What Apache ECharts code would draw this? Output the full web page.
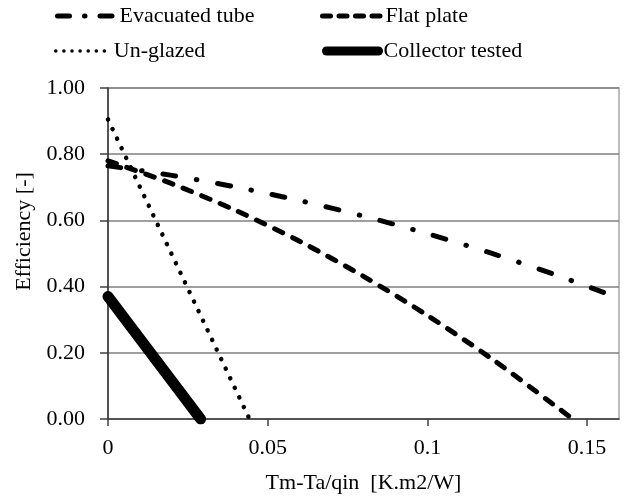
<!DOCTYPE html>
<html>
<head>
<meta charset="utf-8">
<title>Collector efficiency curves</title>
<script src="https://cdn.jsdelivr.net/npm/echarts@6/dist/echarts.min.js"></script>
<style>
  html, body { margin: 0; padding: 0; background: #fff; }
  #chart { width: 626px; height: 501px; }
</style>
</head>
<body>
<div id="chart"></div>
<script>
// Reduced temperature (Tm-Ta)/qin, K.m2/W, and collector efficiency values
const evacuatedX   = [0, 0.02, 0.04, 0.06, 0.08, 0.10, 0.12, 0.14, 0.16];
const evacuatedEff = [0.765, 0.736, 0.701, 0.660, 0.613, 0.560, 0.501, 0.436, 0.365];

const flatX   = [0, 0.02, 0.04, 0.06, 0.08, 0.10, 0.12, 0.14, 0.1455];
const flatEff = [0.78, 0.711, 0.630, 0.537, 0.431, 0.313, 0.183, 0.040, 0];

const unglazedX   = [0, 0.0443];
const unglazedEff = [0.905, 0];

const testedX   = [0, 0.029];
const testedEff = [0.37, 0];

const xTicks = [0, 0.05, 0.1, 0.15];

const seriesNames = ['Evacuated tube', 'Flat plate', 'Un-glazed', 'Collector tested'];

const FONT = '"Liberation Serif", "Times New Roman", serif';

function pairs(xs, ys) {
  return xs.map((x, i) => [x, ys[i]]);
}

const styles = [
  { width: 5, type: [13, 21, 0.5, 21], cap: 'round' },
  { width: 5, type: [9, 11], cap: 'round' },
  { width: 4.5, type: [0.1, 10.5], cap: 'round' },
  { width: 11, type: 'solid', cap: 'round' }
];

const dataSets = [
  pairs(evacuatedX, evacuatedEff),
  pairs(flatX, flatEff),
  pairs(unglazedX, unglazedEff),
  pairs(testedX, testedEff)
];

const series = seriesNames.map((name, i) => ({
  name: name,
  type: 'line',
  data: dataSets[i],
  symbol: 'none',
  showSymbol: false,
  smooth: i < 2 ? 0.3 : false,
  lineStyle: {
    color: '#000',
    width: styles[i].width,
    type: styles[i].type,
    cap: styles[i].cap,
    join: 'round'
  },
  itemStyle: { color: '#000' },
  z: 3 + i
}));

// one legend block per entry, laid out as a 2 x 2 table
const legendPos = [
  { left: 55, top: 5, width: 57 },
  { left: 320, top: 5, width: 58 },
  { left: 54, top: 40, width: 53 },
  { left: 322, top: 40, width: 52 }
];
const legendLine = [
  { width: 5, type: [12, 15, 0.5, 15], cap: 'round' },
  { width: 5, type: [8, 8.5], cap: 'round' },
  { width: 3.5, type: [0.1, 8], cap: 'round' },
  { width: 9, type: 'solid', cap: 'round' }
];
const legends = seriesNames.map((name, i) => ({
  data: [name],
  left: legendPos[i].left,
  top: legendPos[i].top,
  orient: 'horizontal',
  itemWidth: legendPos[i].width,
  itemHeight: 20,
  padding: 0,
  selectedMode: false,
  textStyle: { fontFamily: FONT, fontSize: 22, color: '#000' },
  lineStyle: {
    color: '#000',
    width: legendLine[i].width,
    type: legendLine[i].type,
    cap: legendLine[i].cap
  },
  itemStyle: { color: '#000', borderWidth: 0, opacity: 0 }
}));

const chart = echarts.init(document.getElementById('chart'), null, { renderer: 'canvas' });

chart.setOption({
  backgroundColor: '#fff',
  animation: false,
  legend: legends,
  grid: {
    left: 108,
    right: 7,
    top: 88,
    bottom: 82,
    show: true,
    borderColor: '#a6a6a6',
    borderWidth: 1.5,
    backgroundColor: 'transparent'
  },
  xAxis: {
    type: 'value',
    min: 0,
    max: 0.16,
    name: 'Tm-Ta/qin  [K.m2/W]',
    nameLocation: 'middle',
    nameGap: 53,
    nameTextStyle: { fontFamily: FONT, fontSize: 22, color: '#000' },
    axisLine: { show: true, onZero: false, lineStyle: { color: '#404040', width: 1.5 } },
    axisTick: {
      show: true,
      inside: false,
      length: 7,
      customValues: xTicks,
      lineStyle: { color: '#404040', width: 1.5 }
    },
    axisLabel: {
      customValues: xTicks,
      margin: 18,
      fontFamily: FONT,
      fontSize: 22,
      color: '#000'
    },
    splitLine: { show: false }
  },
  yAxis: {
    type: 'value',
    min: 0,
    max: 1,
    interval: 0.2,
    name: 'Efficiency [-]',
    nameLocation: 'middle',
    nameGap: 72,
    nameTextStyle: { fontFamily: FONT, fontSize: 22, color: '#000', padding: [0, 0, 0, 44] },
    axisLine: { show: true, onZero: false, lineStyle: { color: '#303030', width: 1.5 } },
    axisTick: { show: true, inside: false, length: 8, lineStyle: { color: '#404040', width: 1.5 } },
    axisLabel: {
      margin: 23,
      fontFamily: FONT,
      fontSize: 22,
      color: '#000',
      formatter: v => v.toFixed(2)
    },
    splitLine: { show: true, lineStyle: { color: '#7f7f7f', width: 1.5 } }
  },
  series: series
});
</script>
</body>
</html>
